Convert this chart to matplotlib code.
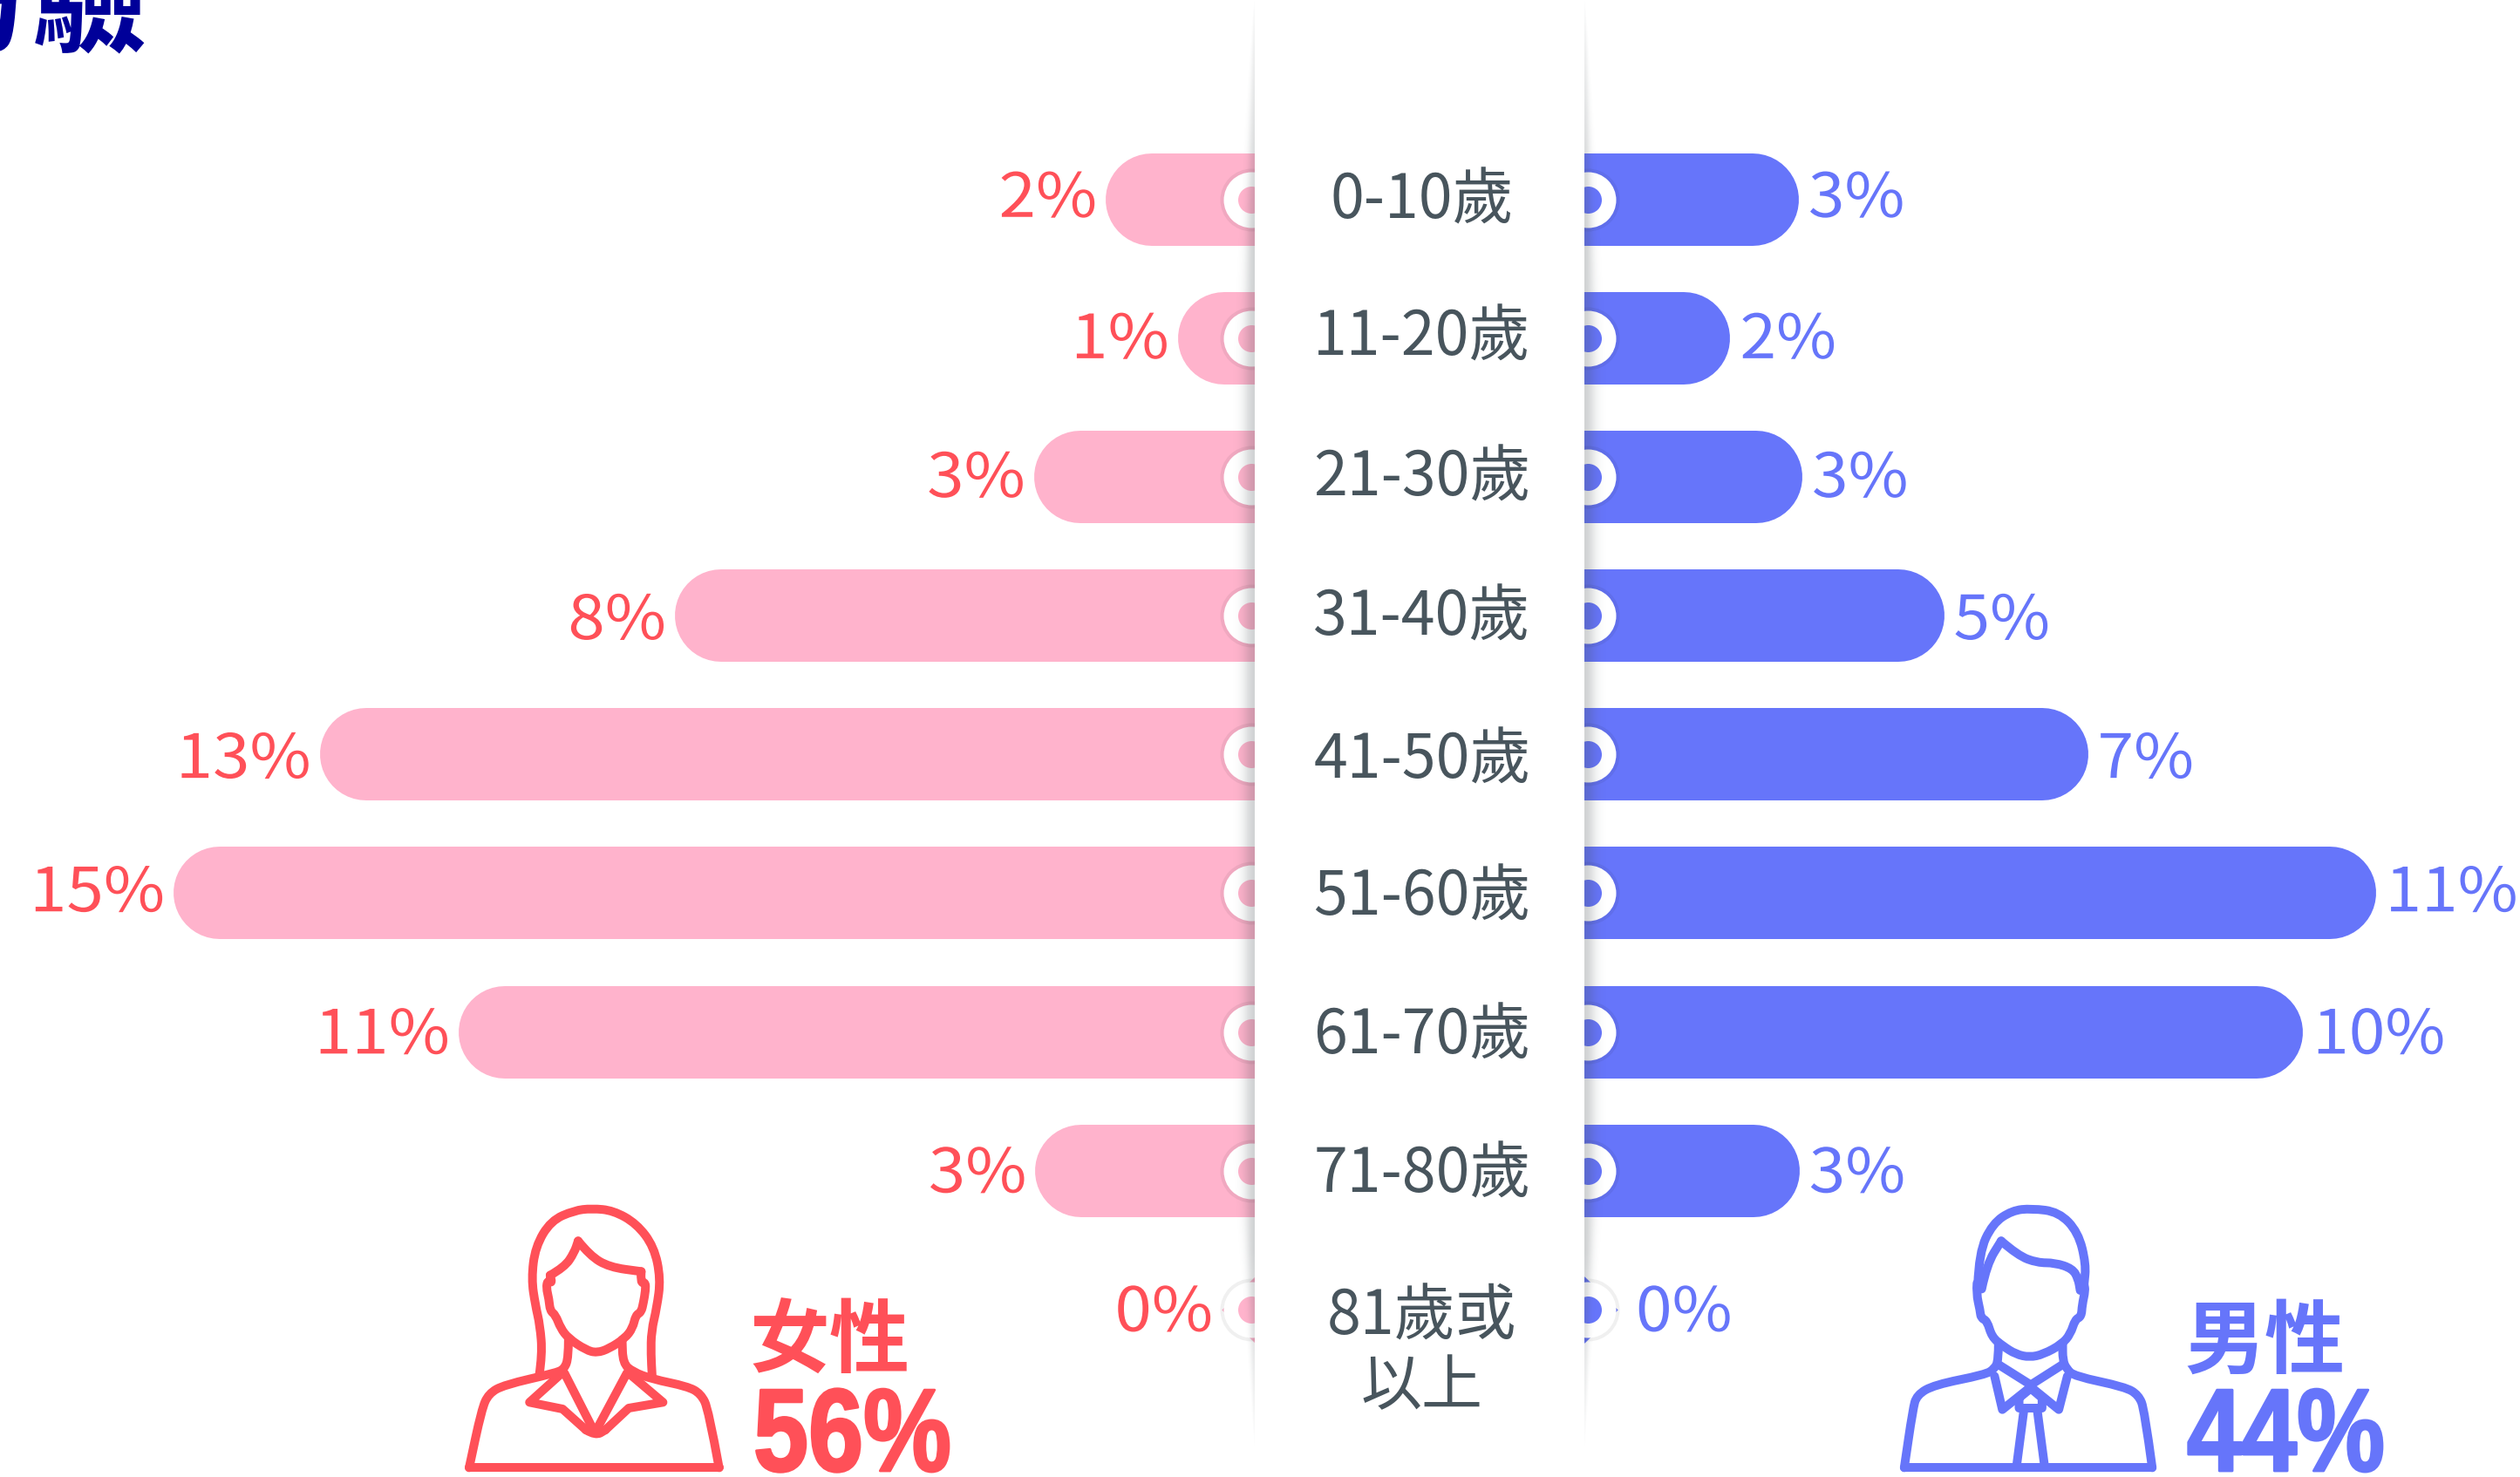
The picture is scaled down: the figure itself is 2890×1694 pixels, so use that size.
import matplotlib
matplotlib.use("Agg")
import matplotlib.pyplot as plt
from matplotlib.path import Path
from matplotlib.patches import PathPatch, Rectangle
from matplotlib.transforms import Affine2D
import matplotlib.patheffects as pe
import numpy as np

W, H = 2890, 1694
plt.rcParams['font.family'] = ['Noto Sans CJK TC', 'DejaVu Sans']

categories = ['0-10歲', '11-20歲', '21-30歲', '31-40歲', '41-50歲', '51-60歲', '61-70歲', '71-80歲', '81歲或\n以上']
female = [2.07, 1.07, 3.07, 8.06, 13.0, 15.03, 11.07, 3.05, 0]
male = [2.98, 2.03, 3.03, 5.0, 7.0, 11.0, 9.99, 2.99, 0]
female_labels = ['2%', '1%', '3%', '8%', '13%', '15%', '11%', '3%', '0%']
male_labels = ['3%', '2%', '3%', '5%', '7%', '11%', '10%', '3%', '0%']

PINK = '#FFB3CC'
RED = '#FF5058'
BLUE = '#6675FA'
GREY = '#48555D'
NAVY = '#000099'

PX_PER_PCT = 82.5
ROW0, ROW_H = 229, 159.1
BAR_H = 106
LEFT_EDGE, RIGHT_EDGE = 1439, 1817
LABEL_DY = [-5, -2, -2, 2, 2, -4, 0, 0, 0]
CAT_DY = [5, 3, 5, 5, 10, 8, 8, 8]


def px(n):
    return n * 72 / 100


class Stretch(pe.AbstractPathEffect):
    # horizontal scaling of a text around x0 (display pixels), optional heavier outline
    def __init__(self, x0, sx, bold=0, color=None):
        super().__init__()
        self.x0, self.sx, self.bold, self.color = x0, sx, bold, color

    def draw_path(self, renderer, gc, tpath, affine, rgbFace=None):
        t = affine + Affine2D().translate(-self.x0, 0).scale(self.sx, 1).translate(self.x0, 0)
        if self.bold:
            gc0 = renderer.new_gc()
            gc0.copy_properties(gc)
            gc0.set_linewidth(self.bold)
            gc0.set_foreground(self.color)
            renderer.draw_path(gc0, tpath, t, rgbFace)
            gc0.restore()
        else:
            renderer.draw_path(gc, tpath, t, rgbFace)


fig = plt.figure(figsize=(W / 100, H / 100), dpi=100, facecolor='white')
ylim = ((H - ROW0) / ROW_H, -ROW0 / ROW_H)
ax_l = fig.add_axes([0, 0, LEFT_EDGE / W, 1])
ax_l.set_xlim(LEFT_EDGE / PX_PER_PCT, 0)
ax_r = fig.add_axes([RIGHT_EDGE / W, 0, (W - RIGHT_EDGE) / W, 1])
ax_r.set_xlim(0, (W - RIGHT_EDGE) / PX_PER_PCT)


def side(ax, values, labels, color, text_color, zero_x):
    cap = BAR_H / 2 / PX_PER_PCT
    y = np.arange(len(values))
    ax.set_ylim(*ylim)
    # zero rows only show the pointed stub behind the ring
    ax.scatter([0] * len(y), y, marker='D', s=px(54) ** 2, color=color, linewidths=0, zorder=1)
    for i, v in enumerate(values):
        if v > 0:
            ax.plot([0, v - cap], [i, i], color=color, lw=px(BAR_H), solid_capstyle='round', zorder=2)
    ring_x = 4 / PX_PER_PCT
    ax.scatter([ring_x] * len(y), y, s=px(72) ** 2, color='#000000', alpha=0.06, linewidths=0, zorder=3)
    ax.scatter([ring_x] * len(y), y, s=px(64) ** 2, color='white', linewidths=0, zorder=4)
    ax.scatter([ring_x] * len(y), y, s=px(31) ** 2, color=color, linewidths=0, zorder=5)
    left = ax is ax_l
    for i, (v, s) in enumerate(zip(values, labels)):
        x = v if v > 0 else zero_x
        gap = (10 if left else 11) if v > 0 else 0
        off = -gap if left else gap
        x0 = ax.transData.transform((x, i))[0] + off
        ax.annotate(s, (x, i), xytext=(off, -5 - LABEL_DY[i]), textcoords='offset pixels',
                    ha='right' if left else 'left', va='center', color=text_color, fontsize=px(70),
                    annotation_clip=False, path_effects=[Stretch(x0, 1.09 if left else 1.07)])
    ax.axis('off')


side(ax_l, female, female_labels, PINK, RED, (LEFT_EDGE - 1391) / PX_PER_PCT)
side(ax_r, male, male_labels, BLUE, BLUE, (1876 - RIGHT_EDGE) / PX_PER_PCT)

ov = fig.add_axes([0, 0, 1, 1], zorder=5)
ov.patch.set_alpha(0)

# panel shadow, narrow at the top and fading out near the bottom
yy = np.arange(H)
prof = np.clip(yy / 420, 0, 1) ** 0.7 * np.clip((1660 - yy) / 330, 0, 1) ** 0.9
dist = np.arange(60)
alpha = np.zeros((H, 60))
for r in range(H):
    wid = max(24 * prof[r], 0.5)
    alpha[r] = 0.24 * np.clip(prof[r] * 1.4, 0, 1) * np.exp(-(dist / (wid * 0.5)) ** 2)
rgba = np.zeros((H, 60, 4))
rgba[..., :3] = np.array([0.25, 0.28, 0.30])
rgba[..., 3] = alpha
ov.imshow(rgba, extent=(RIGHT_EDGE, RIGHT_EDGE + 60, H, 0), aspect='auto', zorder=1, interpolation='bilinear')
ov.imshow(rgba[:, ::-1], extent=(LEFT_EDGE - 60, LEFT_EDGE, H, 0), aspect='auto', zorder=1, interpolation='bilinear')
ov.set_xlim(0, W)
ov.set_ylim(H, 0)
ov.axis('off')
ov.add_patch(Rectangle((LEFT_EDGE, 0), RIGHT_EDGE - LEFT_EDGE, H, color='white', lw=0, zorder=2))

for i, c in enumerate(categories):
    if '\n' in c:
        y = 1551
    else:
        y = ROW0 + ROW_H * i - 3 + CAT_DY[i]
    ov.text(1631, y, c, ha='center', va='center', fontsize=px(70), color=GREY, zorder=3, linespacing=1.17)

# title remainder cut by the top of the canvas
ov.text(-96, 49, '方驗', ha='left', va='baseline', fontsize=px(133), fontweight='black', color=NAVY,
        clip_on=False, zorder=3)

ov.text(952, 1541, '女性', ha='center', va='center', fontsize=px(92), fontweight='bold', color=RED, zorder=3)
ov.text(2597, 1541, '男性', ha='center', va='center', fontsize=px(92), fontweight='bold', color=BLUE, zorder=3)
for x, s, col in [(864, '56%', RED), (2508, '44%', BLUE)]:
    ov.text(x, 1687, s, ha='left', va='baseline', fontsize=px(135), fontweight='bold', color=col,
            family=['Liberation Sans', 'DejaVu Sans'], zorder=3,
            path_effects=[Stretch(x, 0.84, bold=2, color=col)])


def stroke(pts, x0, col, smooth=True, closed=False):
    p = np.array(pts, float)
    p[:, 0] = x0 + p[:, 0] / 2.24
    p[:, 1] = 1340 + p[:, 1] / 3
    if closed:
        p = np.vstack([p, p[0]])
    if smooth and len(p) > 2:
        verts, codes = [p[0]], [Path.MOVETO]
        for a, b in zip(p[1:-1], p[2:]):
            verts += [a, (a + b) / 2]
            codes += [Path.CURVE3, Path.CURVE3]
        verts.append(p[-1])
        codes.append(Path.LINETO)
    else:
        verts, codes = list(p), [Path.MOVETO] + [Path.LINETO] * (len(p) - 1)
    ov.add_patch(PathPatch(Path(verts, codes), fc='none', ec=col, lw=px(10), capstyle='round', joinstyle='round', zorder=3))


WOMAN_X = 480
stroke([(310, 712), (318, 640), (312, 540), (300, 470), (290, 380), (300, 270), (340, 180), (400, 145), (445, 138), (500, 145), (560, 190), (605, 270), (622, 380), (612, 480), (598, 560), (597, 640), (600, 712)], WOMAN_X, RED)
stroke([(338, 368), (375, 340), (400, 290), (410, 250)], WOMAN_X, RED)
stroke([(410, 250), (440, 300), (490, 340), (572, 355)], WOMAN_X, RED)
stroke([(572, 355), (570, 395), (583, 392), (583, 420), (578, 460), (572, 495), (558, 505), (550, 550), (530, 585), (490, 620), (458, 635), (430, 625), (385, 585), (365, 550), (352, 505), (338, 490), (335, 450), (328, 410), (332, 385), (343, 395), (338, 368)], WOMAN_X, RED)
stroke([(385, 590), (385, 650), (375, 690), (350, 705), (220, 745), (180, 775), (162, 830), (130, 1030)], WOMAN_X, RED)
stroke([(130, 1030), (772, 1030)], WOMAN_X, RED, smooth=False)
stroke([(772, 1030), (745, 830), (725, 775), (690, 750), (600, 725), (550, 700), (525, 670), (523, 590)], WOMAN_X, RED)
stroke([(372, 700), (285, 805), (370, 828), (430, 900)], WOMAN_X, RED, smooth=False)
stroke([(430, 900), (455, 920), (480, 900)], WOMAN_X, RED)
stroke([(480, 900), (540, 825), (628, 805), (540, 705)], WOMAN_X, RED, smooth=False)
stroke([(375, 705), (453, 910), (535, 705)], WOMAN_X, RED, smooth=False)

MAN_X = 2120
stroke([(332, 400), (335, 290), (370, 190), (420, 145), (470, 138), (540, 150), (590, 220), (610, 330), (605, 400)], MAN_X, BLUE)
stroke([(342, 415), (355, 330), (392, 250)], MAN_X, BLUE)
stroke([(392, 250), (435, 300), (485, 325), (530, 325), (575, 345), (590, 380), (595, 420)], MAN_X, BLUE)
stroke([(330, 395), (328, 430), (338, 490), (340, 515), (356, 525), (368, 580), (395, 610), (430, 640), (465, 650), (500, 640), (548, 605), (570, 570), (582, 520), (598, 510), (600, 470), (608, 420), (605, 400)], MAN_X, BLUE)
stroke([(385, 600), (385, 660), (375, 690), (350, 710), (220, 745), (175, 780), (165, 830), (143, 1030)], MAN_X, BLUE)
stroke([(143, 1030), (780, 1030)], MAN_X, BLUE, smooth=False)
stroke([(780, 1030), (760, 830), (745, 780), (710, 752), (580, 715), (560, 690), (550, 660), (550, 600)], MAN_X, BLUE)
stroke([(385, 675), (468, 745), (550, 675)], MAN_X, BLUE, smooth=False)
stroke([(375, 715), (395, 830), (468, 752), (540, 830), (562, 715)], MAN_X, BLUE, smooth=False)
stroke([(438, 790), (438, 825), (497, 825), (497, 790), (468, 757)], MAN_X, BLUE, smooth=False, closed=True)
stroke([(450, 835), (432, 1020)], MAN_X, BLUE, smooth=False)
stroke([(485, 835), (503, 1020)], MAN_X, BLUE, smooth=False)

fig.savefig('out.png', dpi=100)
